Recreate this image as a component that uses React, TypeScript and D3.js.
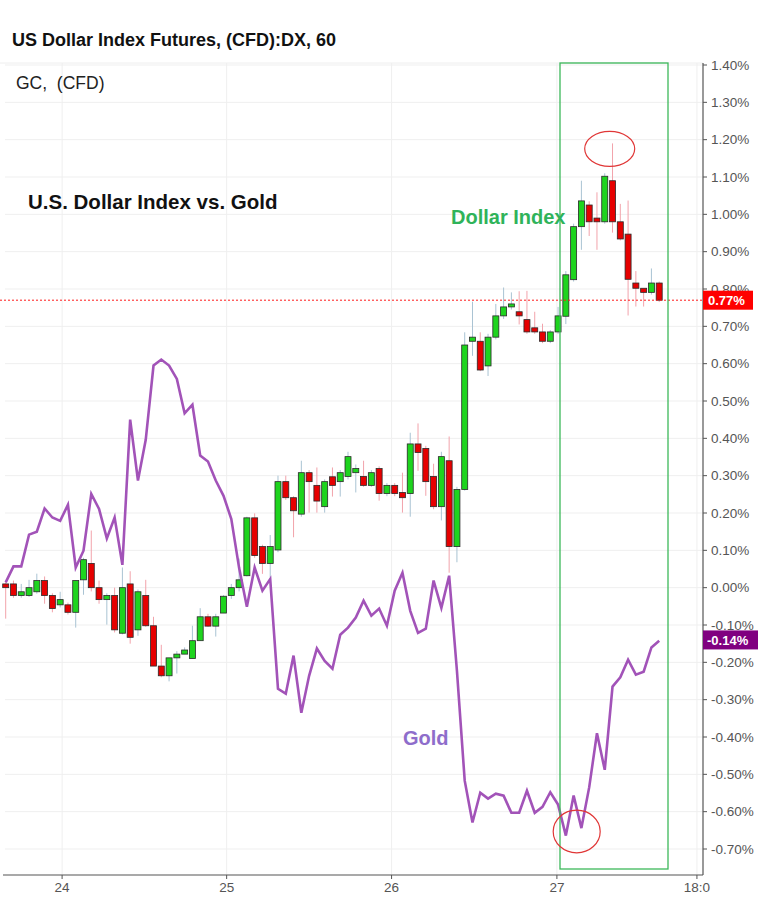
import React from "react";
import * as d3 from "d3";

const W = 778;
const H = 905;

// Dollar index hourly candles (% change)
const dxOpen = [0.01,0.01,-0.021,-0.021,-0.011,0.019,-0.021,-0.046,-0.046,-0.066,
0.021,0.065,0.0,-0.032,-0.021,-0.122,0.01,-0.113,-0.021,-0.102,
-0.21,-0.236,-0.188,-0.178,-0.19,-0.142,-0.078,-0.103,-0.068,-0.021,
0.0,0.032,0.187,0.11,0.065,0.101,0.284,0.241,0.197,0.308,
0.274,0.217,0.297,0.284,0.298,0.308,0.298,0.274,0.319,0.252,
0.274,0.255,0.252,0.385,0.373,0.298,0.217,0.34,0.11,0.263,
0.66,0.66,0.594,0.671,0.728,0.752,0.739,0.718,0.696,0.685,
0.66,0.685,0.727,0.825,0.967,1.025,0.99,0.98,1.09,0.98,
0.947,0.816,0.802,0.791,0.816];
const dxClose = [0.0,-0.021,-0.011,0.0,0.019,-0.021,-0.056,-0.032,-0.066,0.019,
0.075,0.0,-0.032,-0.021,-0.113,0.0,-0.133,-0.011,-0.102,-0.21,
-0.236,-0.188,-0.178,-0.167,-0.142,-0.078,-0.103,-0.078,-0.023,0.0,
0.021,0.187,0.086,0.065,0.11,0.284,0.241,0.206,0.308,0.284,
0.232,0.284,0.274,0.308,0.351,0.319,0.274,0.308,0.252,0.274,
0.252,0.241,0.385,0.362,0.284,0.217,0.351,0.11,0.263,0.65,
0.671,0.583,0.671,0.728,0.752,0.76,0.728,0.685,0.685,0.66,
0.685,0.728,0.838,0.967,1.036,0.98,0.98,1.102,0.98,0.934,
0.826,0.802,0.791,0.816,0.77];
const dxHigh = [0.015,0.019,0.01,0.021,0.0375,0.03,-0.015,-0.011,-0.04,0.02,
0.08,0.153,0.019,-0.015,0.0,0.054,0.044,-0.005,0.021,-0.078,
-0.153,-0.188,-0.17,-0.16,-0.102,-0.055,-0.07,-0.07,-0.02,0.01,
0.078,0.19,0.199,0.115,0.141,0.3,0.3,0.245,0.34,0.315,
0.322,0.29,0.322,0.315,0.364,0.33,0.34,0.315,0.325,0.28,
0.28,0.308,0.415,0.44,0.38,0.332,0.364,0.405,0.27,0.684,
0.766,0.684,0.68,0.76,0.804,0.791,0.794,0.795,0.739,0.707,
0.69,0.752,0.848,0.975,1.09,1.035,1.059,1.11,1.19,1.028,
1.037,0.848,0.8,0.855,0.82];
const dxLow = [-0.083,-0.027,-0.027,-0.025,-0.016,-0.043,-0.066,-0.053,-0.072,-0.107,
-0.019,-0.01,-0.043,-0.099,-0.12,-0.125,-0.15,-0.129,-0.105,-0.21,
-0.24,-0.251,-0.23,-0.178,-0.19,-0.142,-0.105,-0.131,-0.068,-0.03,
-0.01,0.03,0.08,0.037,0.028,0.095,0.235,0.135,0.19,0.201,
0.201,0.201,0.244,0.244,0.29,0.255,0.27,0.27,0.233,0.245,
0.245,0.201,0.19,0.313,0.246,0.21,0.18,0.04,0.068,0.26,
0.621,0.58,0.567,0.665,0.72,0.745,0.705,0.68,0.68,0.655,
0.655,0.68,0.706,0.82,0.905,0.942,0.905,0.975,0.951,0.93,
0.729,0.753,0.753,0.785,0.765];

// Gold (% change) per bar
const gold = [0.014,0.057,0.057,0.142,0.15,0.212,0.188,0.179,0.222,0.054,
0.099,0.251,0.211,0.132,0.188,0.061,0.45,0.287,0.396,0.595,
0.611,0.595,0.559,0.467,0.49,0.354,0.338,0.287,0.246,0.184,
0.053,-0.051,0.054,-0.008,0.023,-0.271,-0.284,-0.182,-0.335,-0.236,
-0.163,-0.196,-0.217,-0.126,-0.107,-0.08,-0.035,-0.075,-0.056,-0.102,
-0.008,0.04,-0.062,-0.121,-0.11,0.019,-0.054,0.032,-0.222,-0.517,
-0.629,-0.549,-0.565,-0.552,-0.557,-0.603,-0.603,-0.544,-0.603,-0.587,
-0.548,-0.581,-0.664,-0.557,-0.644,-0.535,-0.39,-0.488,-0.265,-0.24,
-0.193,-0.233,-0.225,-0.16,-0.142];

const yTickValues = [1.4,1.3,1.2,1.1,1.0,0.9,0.8,0.7,0.6,0.5,0.4,0.3,0.2,0.1,0.0,-0.1,-0.2,-0.3,-0.4,-0.5,-0.6,-0.7];
const xTickValues = [7.25, 28.4, 49.6, 70.85, 88.85];
const xTickLabels = ["24", "25", "26", "27", "18:0"];

const dxLast = 0.77;
const goldLast = -0.14;

const FONT = "'Liberation Sans', Arial, Helvetica, sans-serif";

export default function App() {
  const x = d3.scaleLinear().domain([0, 84]).range([5.7, 659.2]);
  const y = d3.scaleLinear().domain([-0.7, 1.4]).range([849, 65]);
  const axisX = 703;
  const axisY = 875;
  const plotTop = 63;

  const goldLine = d3
    .line<number>()
    .x((_, i) => x(i))
    .y((d) => y(d))(gold) as string;

  const fmt = (v: number) => v.toFixed(2) + "%";

  return (
    <svg width={W} height={H} style={{ position: "absolute", left: 0, top: 0, background: "#fff" }} fontFamily={FONT}>
      <rect x={0} y={0} width={W} height={H} fill="#fff" />
      {/* top separator */}
      <line x1={0} x2={axisX} y1={plotTop} y2={plotTop} stroke="#eeeeee" />
      {/* horizontal grid */}
      {yTickValues.map((v) => (
        <line key={"hg" + v} x1={5} x2={axisX} y1={y(v)} y2={y(v)} stroke="#efefef" strokeWidth={1} />
      ))}
      {/* vertical grid */}
      {xTickValues.map((v) => (
        <line key={"vg" + v} x1={x(v)} x2={x(v)} y1={plotTop} y2={axisY} stroke="#efefef" strokeWidth={1} />
      ))}

      {/* title */}
      <text x={12} y={46} fontSize={18} fontWeight="bold" fill="#111">US Dollar Index Futures, (CFD):DX, 60</text>
      <text x={16} y={89} fontSize={17.5} fill="#222" xmlSpace="preserve">GC,  (CFD)</text>

      {/* candles */}
      {dxOpen.map((o, i) => {
        const c = dxClose[i];
        const up = c >= o;
        const cx = x(i);
        const top = y(Math.max(o, c));
        const bot = y(Math.min(o, c));
        return (
          <g key={"c" + i}>
            <line x1={cx} x2={cx} y1={y(dxHigh[i])} y2={y(dxLow[i])} stroke={up ? "#a9c3d3" : "#f2a3ab"} strokeWidth={1} />
            <rect x={cx - 3} y={top} width={6} height={Math.max(bot - top, 2)} fill={up ? "#1ed41e" : "#e60000"} stroke="#2a2a2a" strokeWidth={0.8} />
          </g>
        );
      })}

      {/* gold line */}
      <path d={goldLine} fill="none" stroke="#a253b8" strokeWidth={2.6} strokeLinejoin="miter" />

      {/* last price dashed */}
      <line x1={0} x2={axisX} y1={y(dxLast)} y2={y(dxLast)} stroke="#ff1a1a" strokeWidth={1} strokeDasharray="2,2" />

      {/* annotations */}
      <rect x={560} y={63} width={108} height={806} fill="none" stroke="#3cb85a" strokeWidth={1.3} />
      <ellipse cx={609.7} cy={148.8} rx={25} ry={17.5} fill="none" stroke="#e03636" strokeWidth={1.2} />
      <ellipse cx={576.7} cy={831.5} rx={23.5} ry={21.3} fill="none" stroke="#e03636" strokeWidth={1.2} />
      <text x={28} y={209} fontSize={20.5} fontWeight="bold" fill="#111">U.S. Dollar Index vs. Gold</text>
      <text x={451} y={224} fontSize={20} fontWeight="bold" fill="#2fb35a">Dollar Index</text>
      <text x={403} y={745} fontSize={20} fontWeight="bold" fill="#8e6dcb">Gold</text>

      {/* right axis */}
      <line x1={axisX} x2={axisX} y1={plotTop} y2={axisY} stroke="#555" strokeWidth={1.2} />
      {yTickValues.map((v) => (
        <g key={"yt" + v}>
          <line x1={axisX} x2={axisX + 4} y1={y(v)} y2={y(v)} stroke="#555" />
          <text x={axisX + 8} y={y(v) + 4.8} fontSize={13.5} fill="#555">{fmt(v)}</text>
        </g>
      ))}
      {/* last value labels */}
      <rect x={axisX} y={y(dxLast) - 9.5} width={50} height={19} fill="#ff0000" />
      <text x={axisX + 5} y={y(dxLast) + 4.8} fontSize={13} fontWeight="bold" fill="#fff">{fmt(dxLast)}</text>
      <rect x={axisX} y={y(goldLast) - 9.5} width={55} height={19} fill="#800080" />
      <text x={axisX + 4} y={y(goldLast) + 4.8} fontSize={13} fontWeight="bold" fill="#fff">{fmt(goldLast)}</text>

      {/* bottom axis */}
      <line x1={3} x2={axisX} y1={axisY} y2={axisY} stroke="#555" strokeWidth={1.2} />
      {xTickValues.map((v, i) => (
        <g key={"xt" + v}>
          <line x1={x(v)} x2={x(v)} y1={axisY} y2={axisY + 4} stroke="#555" />
          <text x={x(v)} y={892} fontSize={13.5} fill="#555" textAnchor="middle">{xTickLabels[i]}</text>
        </g>
      ))}
    </svg>
  );
}
